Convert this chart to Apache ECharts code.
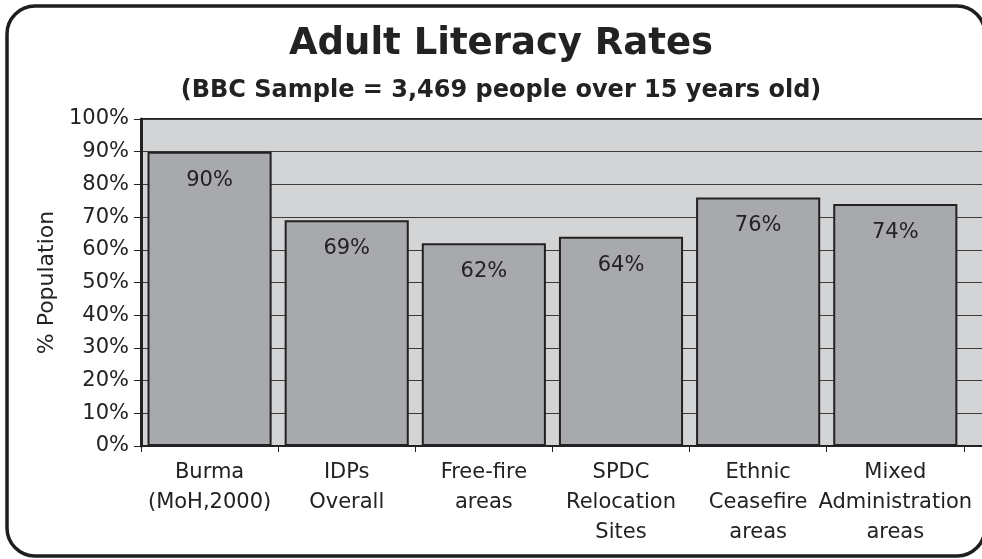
<!DOCTYPE html>
<html>
<head>
<meta charset="utf-8">
<style>
  html, body { margin: 0; padding: 0; background: #fff; }
  #chart { width: 982px; height: 559px; }
</style>
<script src="https://cdn.jsdelivr.net/npm/echarts@6/dist/echarts.min.js"></script>
</head>
<body>
<div id="chart"></div>
<script>
// Adult literacy by area type
const categories = [
  'Burma\n(MoH,2000)',
  'IDPs\nOverall',
  'Free-fire\nareas',
  'SPDC\nRelocation\nSites',
  'Ethnic\nCeasefire\nareas',
  'Mixed\nAdministration\nareas',
  ''
];
const literacyRates = [90, 69, 62, 64, 76, 74, null];
const yTicks = { min: 0, max: 100, interval: 10 };

const FONT = 'DejaVu Sans';
const INK = '#222222';

const chart = echarts.init(document.getElementById('chart'), null, { renderer: 'canvas' });

chart.setOption({
  animation: false,
  backgroundColor: '#ffffff',
  title: [
    {
      text: 'Adult Literacy Rates',
      left: 496, top: 21, textAlign: 'center',
      textStyle: { fontFamily: FONT, fontWeight: 'bold', fontSize: 37, color: INK }
    },
    {
      text: '(BBC Sample = 3,469 people over 15 years old)',
      left: 496, top: 74, textAlign: 'center',
      textStyle: { fontFamily: FONT, fontWeight: 'bold', fontSize: 24, color: INK }
    }
  ],
  graphic: [
    {
      // rounded frame around the whole chart; the plot area sits on top of its right edge
      type: 'rect',
      shape: { x: 7, y: 6, width: 978, height: 550, r: 28 },
      style: { fill: 'none', stroke: '#1e1e1e', lineWidth: 3.5 },
      z: -10
    }
  ],
  grid: {
    left: 141, top: 119, width: 960, height: 327,
    outerBoundsMode: 'none',
    show: true, backgroundColor: '#d3d4d6', borderColor: INK, borderWidth: 2
  },
  xAxis: {
    type: 'category',
    data: categories,
    boundaryGap: true,
    axisLine: { lineStyle: { color: INK, width: 2 } },
    axisTick: { show: true, length: 6, interval: 0, lineStyle: { color: INK, width: 1 } },
    axisLabel: {
      interval: 0, margin: 12, fontFamily: FONT, fontSize: 21,
      lineHeight: 30, color: INK
    }
  },
  yAxis: {
    type: 'value',
    min: yTicks.min, max: yTicks.max, interval: yTicks.interval,
    name: '% Population',
    nameLocation: 'middle',
    nameGap: 82,
    nameTextStyle: { fontFamily: FONT, fontSize: 22, color: INK },
    axisLine: { show: true, lineStyle: { color: INK, width: 3 } },
    axisTick: { show: true, length: 7, lineStyle: { color: INK, width: 1 } },
    axisLabel: {
      margin: 12, fontFamily: FONT, fontSize: 21, color: INK,
      formatter: v => v + '%'
    },
    splitLine: { show: true, lineStyle: { color: '#3a3a3a', width: 1 } }
  },
  series: [
    {
      type: 'bar',
      data: literacyRates,
      barCategoryGap: '9.5%',
      itemStyle: { color: '#a8a9ad', borderColor: INK, borderWidth: 2 },
      label: {
        show: true, position: 'insideTop', distance: 18,
        fontFamily: FONT, fontSize: 21, color: INK,
        formatter: p => p.value + '%'
      }
    }
  ]
});
</script>
</body>
</html>
